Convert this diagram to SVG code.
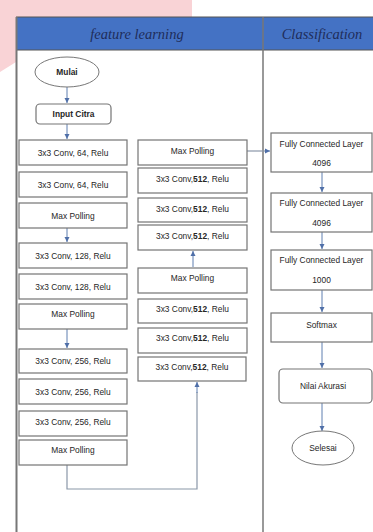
<svg xmlns="http://www.w3.org/2000/svg" width="373" height="532" viewBox="0 0 373 532">
<style>
.box{fill:#fff;stroke:#747474;stroke-width:1.2}
.t{font-family:"Liberation Sans",Arial,sans-serif;font-size:8.4px;fill:#262626;text-anchor:middle}
.b{font-weight:bold}
.hd{font-family:"Liberation Serif","Times New Roman",serif;font-style:italic;font-size:14.5px;fill:#1f2d5a;text-anchor:middle}
.c{fill:none;stroke:#5f7fb0;stroke-width:1}
.g{fill:none;stroke:#8a97a8;stroke-width:1.2}
</style>
<defs>
<marker id="a" markerWidth="6" markerHeight="6" refX="5" refY="3" orient="auto" markerUnits="userSpaceOnUse">
<path d="M0,0.5 L5,3 L0,5.5 Z" fill="#4f6fa8"/>
</marker>
</defs>
<rect width="373" height="532" fill="#fff"/>
<path d="M0,0 H192 V20 H16 V62 L0,72 Z" fill="#f9d3d6"/>
<g id="table">
<rect x="16" y="17" width="360" height="33" fill="#4472c4"/>
<line x1="16" y1="17" x2="373" y2="17" stroke="#555" stroke-width="1"/>
<line x1="16" y1="50" x2="373" y2="50" stroke="#555" stroke-width="1"/>
<line x1="16.5" y1="17" x2="16.5" y2="532" stroke="#777" stroke-width="2"/>
<line x1="263" y1="17" x2="263" y2="532" stroke="#777" stroke-width="1.5"/>
<text class="hd" x="137" y="38.5">feature learning</text>
<text class="hd" x="322" y="38.5">Classification</text>
</g>
<g id="connectors">
<line class="c" x1="67" y1="87" x2="67" y2="103" marker-end="url(#a)"/>
<line class="c" x1="67" y1="124" x2="67" y2="139" marker-end="url(#a)"/>
<line class="c" x1="67" y1="228" x2="67" y2="242" marker-end="url(#a)"/>
<line class="c" x1="67" y1="329" x2="67" y2="348" marker-end="url(#a)"/>
<polyline class="g" points="67,465 67,489 197,489 197,392"/>
<line class="c" x1="197" y1="393" x2="197" y2="382" marker-end="url(#a)"/>
<line class="c" x1="193" y1="267" x2="193" y2="251" marker-end="url(#a)"/>
<line class="g" x1="247" y1="151" x2="266" y2="151"/>
<line class="c" x1="265" y1="151" x2="270" y2="151" marker-end="url(#a)"/>
<line class="c" x1="322" y1="172" x2="322" y2="192" marker-end="url(#a)"/>
<line class="c" x1="322" y1="232" x2="322" y2="249" marker-end="url(#a)"/>
<line class="c" x1="322" y1="290" x2="322" y2="312" marker-end="url(#a)"/>
<line class="c" x1="322" y1="342" x2="322" y2="368" marker-end="url(#a)"/>
<line class="c" x1="322" y1="403" x2="322" y2="431" marker-end="url(#a)"/>
</g>
<g id="mulai"><ellipse cx="67" cy="72" rx="32" ry="15" fill="#fff" stroke="#777"/><text class="t b" x="67" y="75">Mulai</text></g>
<g id="input"><rect class="box" x="36" y="104" width="75" height="20" rx="4"/><text class="t b" x="73.5" y="117">Input Citra</text></g>
<g id="l1"><rect class="box" x="19" y="140" width="108" height="25"/><text class="t" x="73" y="155.5">3x3 Conv, 64, Relu</text></g>
<g id="l2"><rect class="box" x="19" y="172" width="108" height="25"/><text class="t" x="73" y="187.5">3x3 Conv, 64, Relu</text></g>
<g id="l3"><rect class="box" x="19" y="203" width="108" height="25"/><text class="t" x="73" y="218.5">Max Polling</text></g>
<g id="l4"><rect class="box" x="19" y="243" width="108" height="25"/><text class="t" x="73" y="258.5">3x3 Conv, 128, Relu</text></g>
<g id="l5"><rect class="box" x="19" y="274" width="108" height="25"/><text class="t" x="73" y="289.5">3x3 Conv, 128, Relu</text></g>
<g id="l6"><rect class="box" x="19" y="304" width="108" height="25"/><text class="t" x="73" y="317">Max Polling</text></g>
<g id="l7"><rect class="box" x="19" y="349" width="108" height="24"/><text class="t" x="73" y="363.5">3x3 Conv, 256, Relu</text></g>
<g id="l8"><rect class="box" x="19" y="379" width="108" height="25"/><text class="t" x="73" y="394.5">3x3 Conv, 256, Relu</text></g>
<g id="l9"><rect class="box" x="19" y="411" width="108" height="25"/><text class="t" x="73" y="424.5">3x3 Conv, 256, Relu</text></g>
<g id="l10"><rect class="box" x="19" y="440" width="108" height="25"/><text class="t" x="73" y="453">Max Polling</text></g>
<g id="r1"><rect class="box" x="138" y="140" width="109" height="25"/><text class="t" x="192.5" y="153.5">Max Polling</text></g>
<g id="r2"><rect class="box" x="138" y="168" width="109" height="25"/><text class="t" x="192.5" y="181.5">3x3 Conv,<tspan class="b">512</tspan>, Relu</text></g>
<g id="r3"><rect class="box" x="138" y="198" width="109" height="24"/><text class="t" x="192.5" y="211.5">3x3 Conv,<tspan class="b">512</tspan>, Relu</text></g>
<g id="r4"><rect class="box" x="138" y="225" width="109" height="25"/><text class="t" x="192.5" y="238.5">3x3 Conv,<tspan class="b">512</tspan>, Relu</text></g>
<g id="r5"><rect class="box" x="138" y="268" width="109" height="25"/><text class="t" x="192.5" y="281">Max Polling</text></g>
<g id="r6"><rect class="box" x="138" y="299" width="109" height="24"/><text class="t" x="192.5" y="311.5">3x3 Conv,<tspan class="b">512</tspan>, Relu</text></g>
<g id="r7"><rect class="box" x="138" y="328" width="109" height="25"/><text class="t" x="192.5" y="341">3x3 Conv,<tspan class="b">512</tspan>, Relu</text></g>
<g id="r8"><rect class="box" x="138" y="357" width="108" height="24"/><text class="t" x="192" y="369.5">3x3 Conv,<tspan class="b">512</tspan>, Relu</text></g>
<g id="fc1"><rect class="box" x="271" y="133" width="101" height="39"/><text class="t" x="321.5" y="147">Fully Connected Layer</text><text class="t" x="321.5" y="166">4096</text></g>
<g id="fc2"><rect class="box" x="271" y="193" width="101" height="39"/><text class="t" x="321.5" y="206">Fully Connected Layer</text><text class="t" x="321.5" y="226">4096</text></g>
<g id="fc3"><rect class="box" x="271" y="250" width="101" height="40"/><text class="t" x="321.5" y="263">Fully Connected Layer</text><text class="t" x="321.5" y="283">1000</text></g>
<g id="softmax"><rect class="box" x="271" y="313" width="101" height="29"/><text class="t" x="321.5" y="328">Softmax</text></g>
<g id="nilai"><rect class="box" x="279" y="369" width="93" height="34" rx="4"/><text class="t" x="323" y="389">Nilai Akurasi</text></g>
<g id="selesai"><ellipse cx="323" cy="448" rx="31" ry="17" fill="#fff" stroke="#777"/><text class="t" x="323" y="451">Selesai</text></g>
</svg>
